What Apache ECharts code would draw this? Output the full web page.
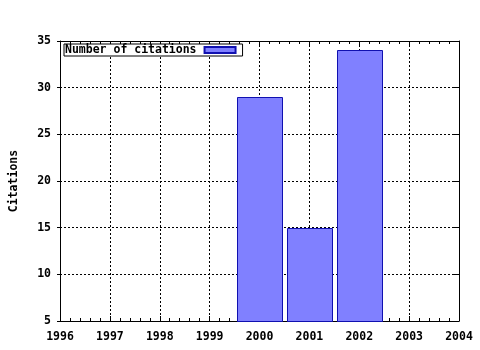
<!DOCTYPE html>
<html><head><meta charset="utf-8">
<script src="https://cdn.jsdelivr.net/npm/echarts@6/dist/echarts.min.js"></script>
<style>html,body{margin:0;padding:0;background:#fff}#c{width:480px;height:350px}</style>
</head><body><div id="c"></div>
<script>
const years = [2000, 2001, 2002];
const citations = [29, 15, 34];
const seriesName = 'Number of citations';
const yAxisTitle = 'Citations';
const xRange = [1996, 2004];
const yRange = [5, 35];

const FONT = 'DejaVu Sans Mono';
const txt = {fontFamily: FONT, fontWeight: 'bold', fontSize: 11.5, color: '#000'};
const chart = echarts.init(document.getElementById('c'), null, {renderer: 'canvas'});
const dotted = {show: true, lineStyle: {color: '#000', type: [2, 2], width: 1}};
const axLine = {show: true, lineStyle: {color: '#000', width: 1}};

chart.setOption({
  animation: false,
  backgroundColor: '#fff',
  grid: {left: 57, right: 21, top: 41, bottom: 29, containLabel: false},
  legend: {
    left: 64, top: 44, orient: 'horizontal', align: 'right',
    itemWidth: 31, itemHeight: 6, icon: 'rect',
    backgroundColor: '#fff',
    borderColor: '#000', borderWidth: 1, borderRadius: 0,
    padding: [0, 6, 0, 1],
    textStyle: Object.assign({}, txt, {padding: [0, 3, 0, 0], lineHeight: 12}),
    data: [seriesName]
  },
  xAxis: [{
    type: 'value', min: xRange[0], max: xRange[1], interval: 1, position: 'bottom',
    axisLine: axLine,
    axisTick: {show: true, inside: true, length: 5, lineStyle: {color: '#000'}},
    minorTick: {show: true, splitNumber: 5, length: 3, lineStyle: {color: '#000'}},
    splitLine: dotted,
    axisLabel: Object.assign({}, txt, {margin: 10, formatter: v => String(v)})
  }, {
    type: 'value', min: xRange[0], max: xRange[1], interval: 1, position: 'top',
    axisLine: axLine,
    axisTick: {show: true, inside: true, length: 5, lineStyle: {color: '#000'}},
    minorTick: {show: true, splitNumber: 5, length: 3, lineStyle: {color: '#000'}},
    splitLine: {show: false}, axisLabel: {show: false}
  }],
  yAxis: [{
    type: 'value', min: yRange[0], max: yRange[1], interval: 5, position: 'left',
    name: yAxisTitle, nameLocation: 'middle', nameGap: 40, nameRotate: 90,
    nameTextStyle: txt,
    axisLine: axLine,
    axisTick: {show: true, inside: false, length: 3, lineStyle: {color: '#000'}},
    splitLine: dotted,
    axisLabel: Object.assign({}, txt, {margin: 9})
  }, {
    type: 'value', min: yRange[0], max: yRange[1], interval: 5, position: 'right',
    axisLine: axLine,
    axisTick: {show: true, inside: true, length: 5, lineStyle: {color: '#000'}},
    splitLine: {show: false}, axisLabel: {show: false}
  }],
  series: [{
    name: seriesName, type: 'custom', xAxisIndex: 0, yAxisIndex: 0,
    itemStyle: {color: '#8080ff', borderColor: '#1010b0', borderWidth: 1},
    encode: {x: 0, y: 1},
    data: years.map((y, i) => [y, citations[i]]),
    renderItem: function (params, api) {
      const x = api.value(0), v = api.value(1);
      const p1 = api.coord([x - 0.45, v]);
      const p2 = api.coord([x + 0.45, yRange[0]]);
      return {
        type: 'rect',
        shape: {x: Math.round(p1[0]) + 0.5, y: Math.round(p1[1]) + 0.5,
                width: Math.round(p2[0] - p1[0]), height: Math.round(p2[1] - p1[1])},
        style: api.style()
      };
    }
  }]
});
</script></body></html>
